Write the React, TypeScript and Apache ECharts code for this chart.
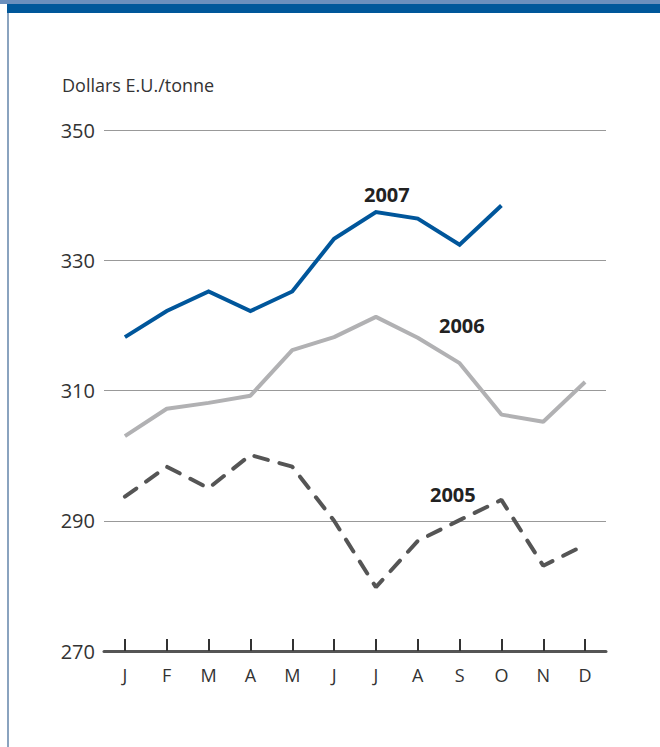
import React, { useEffect, useRef } from "react";
import * as echarts from "echarts";

const months = ["J", "F", "M", "A", "M", "J", "J", "A", "S", "O", "N", "D"];
const yTicks = [270, 290, 310, 330, 350];
const s2007 = [318.2, 322.2, 325.2, 322.2, 325.2, 333.3, 337.4, 336.4, 332.4, 338.4, null, null];
const s2006 = [303.0, 307.2, 308.1, 309.2, 316.2, 318.2, 321.3, 318.1, 314.2, 306.3, 305.2, 311.3];
const s2005 = [293.7, 298.3, 295.0, 300.1, 298.3, 290.0, 279.8, 286.9, 290.1, 293.2, 283.1, 286.3];
const seriesNames = ["2007", "2006", "2005"];

const FONT = "'Open Sans', 'Noto Sans', sans-serif";

export default function App() {
  const ref = useRef<HTMLDivElement>(null);
  useEffect(() => {
    if (!ref.current) return;
    const chart = echarts.init(ref.current, null, { renderer: "svg" });
    chart.setOption({
      animation: false,
      backgroundColor: "#ffffff",
      grid: { left: 104, right: 54, top: 130, bottom: 96 },
      xAxis: {
        type: "category",
        data: months,
        boundaryGap: true,
        axisLine: { show: true, lineStyle: { color: "#555555", width: 3 } },
        axisTick: { show: true, inside: true, alignWithLabel: true, length: 12, lineStyle: { color: "#333333", width: 2 } },
        axisLabel: { color: "#333333", fontSize: 18, fontFamily: FONT, margin: 15 },
        splitLine: { show: false },
      },
      yAxis: {
        type: "value",
        min: yTicks[0],
        max: yTicks[yTicks.length - 1],
        interval: 20,
        axisLine: { show: false },
        axisTick: { show: false },
        axisLabel: { color: "#333333", fontSize: 20, fontFamily: FONT, margin: 9 },
        splitLine: { show: true, lineStyle: { color: "#999999", width: 1 } },
      },
      graphic: [
        { type: "rect", shape: { x: 0, y: 0, width: 660, height: 4 }, style: { fill: "#6b8fbd" } },
        { type: "rect", shape: { x: 7, y: 4, width: 653, height: 9 }, style: { fill: "#00579a" } },
        { type: "rect", shape: { x: 7, y: 13, width: 2, height: 734 }, style: { fill: "#8aa3bf" } },
        { type: "text", left: 62, top: 76, style: { text: "Dollars E.U./tonne", fill: "#333333", font: `18px ${FONT}` } },
        { type: "text", left: 364, top: 184, style: { text: seriesNames[0], fill: "#222222", font: `bold 20px ${FONT}` } },
        { type: "text", left: 439, top: 315, style: { text: seriesNames[1], fill: "#222222", font: `bold 20px ${FONT}` } },
        { type: "text", left: 430, top: 484, style: { text: seriesNames[2], fill: "#222222", font: `bold 20px ${FONT}` } },
      ],
      series: [
        {
          name: seriesNames[0], type: "line", data: s2007, symbol: "none",
          lineStyle: { color: "#00569b", width: 4, join: "miter" },
        },
        {
          name: seriesNames[1], type: "line", data: s2006, symbol: "none",
          lineStyle: { color: "#b1b1b3", width: 4 },
        },
        {
          name: seriesNames[2], type: "line", data: s2005, symbol: "none",
          lineStyle: { color: "#555555", width: 4, type: [14, 12], cap: "round" },
        },
      ],
    });
    return () => chart.dispose();
  }, []);
  return <div ref={ref} style={{ position: "fixed", left: 0, top: 0, width: 660, height: 747 }} />;
}
